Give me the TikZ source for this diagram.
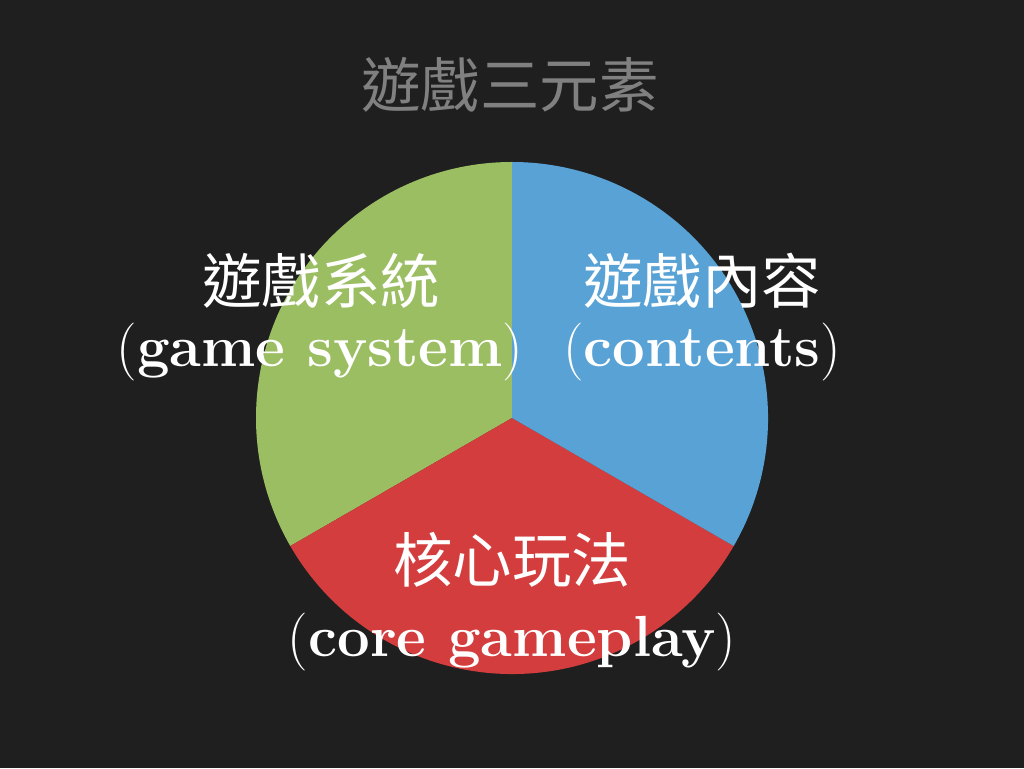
\documentclass[tikz,border=0pt]{standalone}
\usepackage{fontspec}
\newfontfamily\cjk{Noto Sans CJK TC}
\definecolor{bg}{HTML}{1F1F1F}
\definecolor{pgreen}{HTML}{9BBE62}
\definecolor{pblue}{HTML}{58A2D6}
\definecolor{pred}{HTML}{D43D3D}
\definecolor{tgray}{HTML}{808080}
\begin{document}
\begin{tikzpicture}[x=1pt,y=1pt,
  cjklabel/.style={inner sep=0pt,font=\cjk\fontsize{59.5}{70}\selectfont,text=white},
  enlabel/.style={inner sep=0pt,anchor=base,font=\bfseries\fontsize{58}{68}\selectfont,text=white},
  sector/.style={draw=none}]
\fill[bg] (0,0) rectangle (1024,768);
\useasboundingbox (0,0) rectangle (1024,768);
\coordinate (c) at (512,350);
\fill[pgreen] (c) -- ++(90:256) arc[start angle=90,end angle=210,radius=256] -- cycle;
\fill[pred] (c) -- ++(210:256) arc[start angle=210,end angle=330,radius=256] -- cycle;
\fill[pblue] (c) -- ++(-30:256) arc[start angle=-30,end angle=90,radius=256] -- cycle;
\node[cjklabel,text=tgray] (title) at (510,683) {遊戲三元素};
\node[cjklabel] (sysz) at (321,487) {遊戲系統};
\node[enlabel] (syse) at (320,401) {{\mdseries(}game system{\mdseries)}};
\node[cjklabel] (conz) at (702,487) {遊戲內容};
\node[enlabel] (cone) at (702,401) {{\mdseries(}contents{\mdseries)}};
\node[cjklabel] (corez) at (512,208) {核心玩法};
\node[enlabel] (coree) at (512,112) {{\mdseries(}core gameplay{\mdseries)}};
\end{tikzpicture}
\end{document}
